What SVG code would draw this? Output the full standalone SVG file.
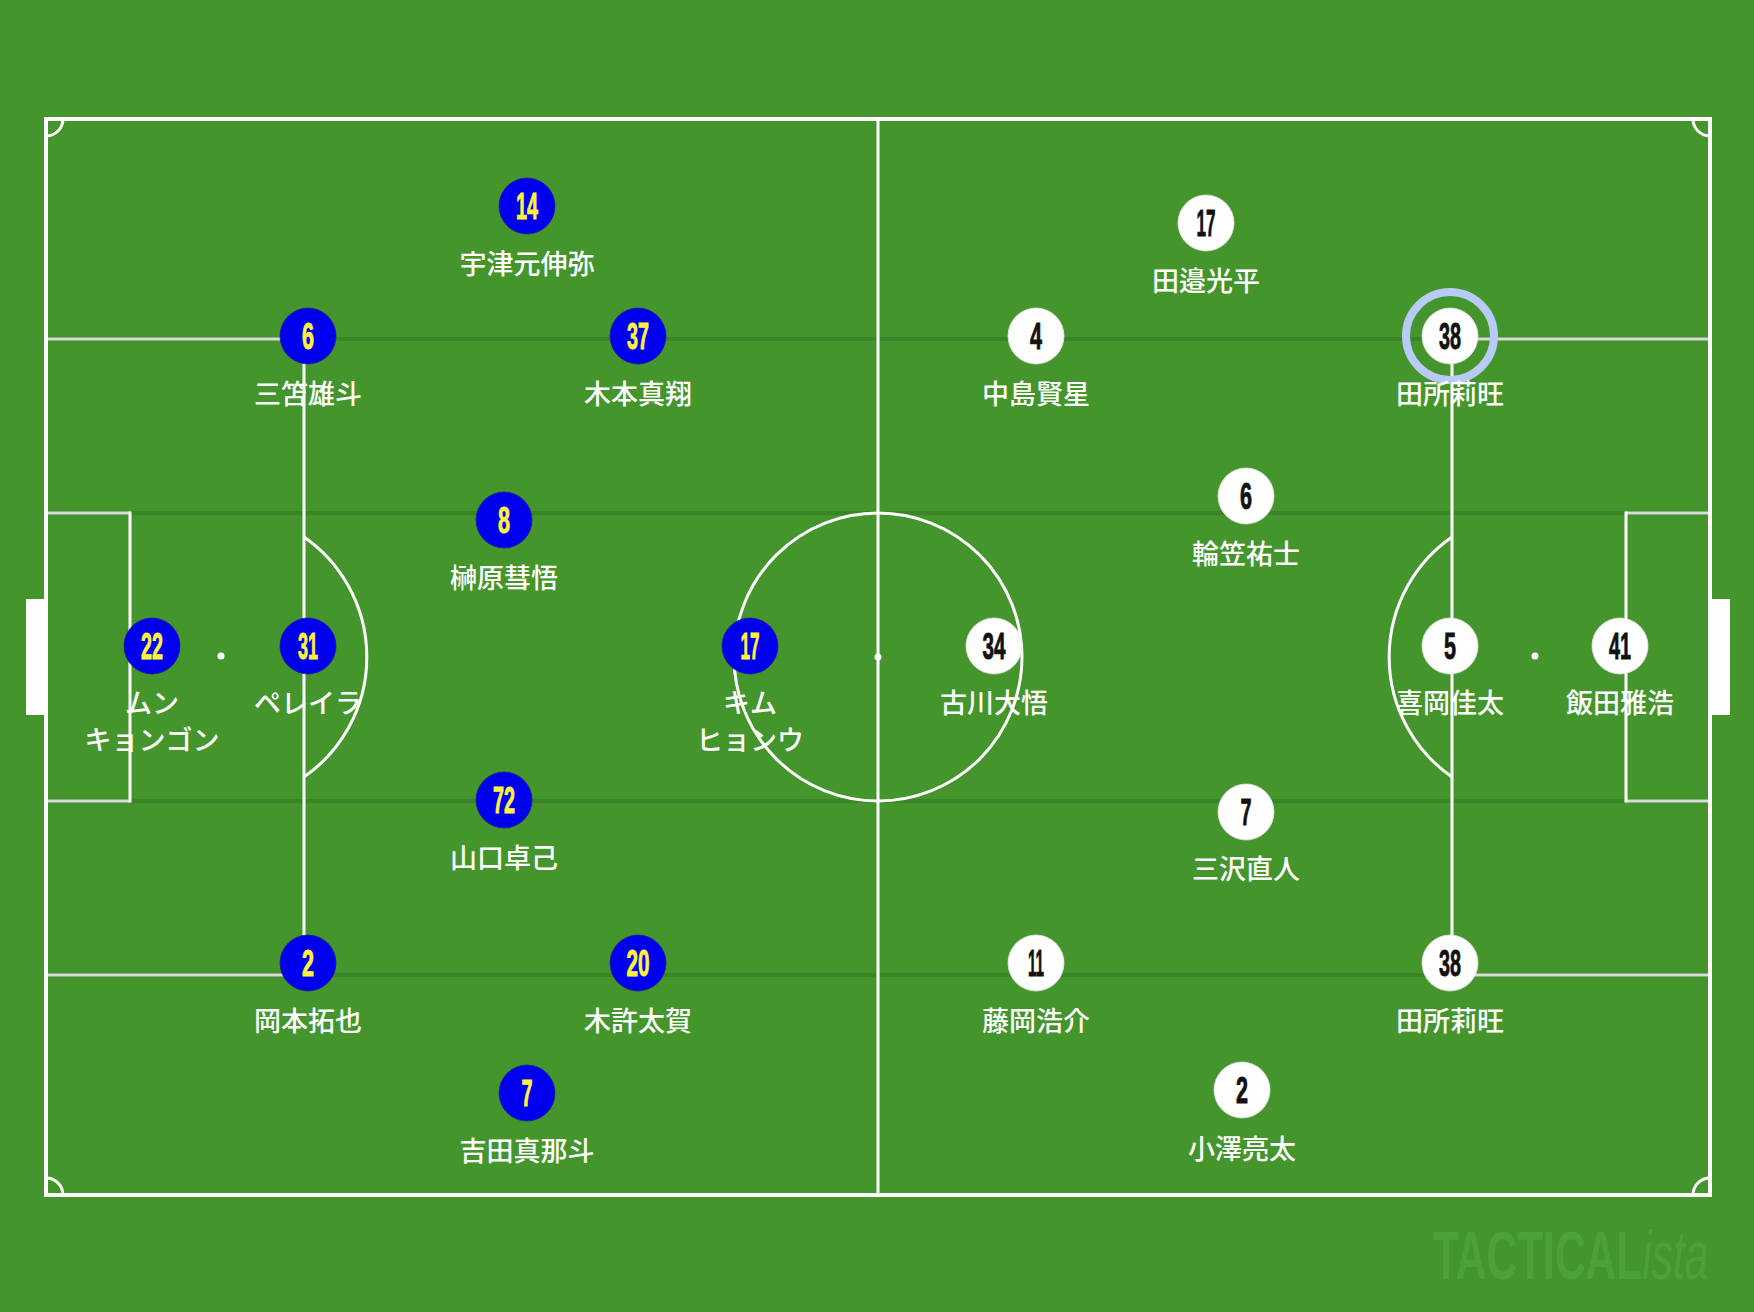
<svg xmlns="http://www.w3.org/2000/svg" width="1754" height="1312" viewBox="0 0 1754 1312">
<style>
.ln{fill:none;stroke:#ffffff;stroke-width:3}
.lg{fill:none;stroke:#dadada;stroke-width:3}
.lane{stroke:#3a8527;stroke-width:4}
.pb{fill:#0000ee;stroke:#1a1a9a;stroke-width:0.8}
.pw{fill:#ffffff;stroke:#e4e4e4;stroke-width:0.8}
.nb{font-family:"Liberation Sans","DejaVu Sans",sans-serif;font-weight:bold;font-size:37px;fill:#fff23a;stroke:#fff23a;stroke-width:0.9;text-anchor:middle}
.nw{font-family:"Liberation Sans","DejaVu Sans",sans-serif;font-weight:bold;font-size:37px;fill:#111111;stroke:#111111;stroke-width:0.9;text-anchor:middle}
.nm{font-family:"Noto Sans CJK JP","Noto Sans",sans-serif;font-size:27px;font-weight:500;fill:#ffffff;text-anchor:middle}
.wm{font-family:"Liberation Sans","DejaVu Sans",sans-serif;font-size:68px;fill:#4ca237}
</style>
<rect x="0" y="0" width="1754" height="1312" fill="#44962c"/>
<g id="lanes">
<line class="lane" x1="46" y1="339" x2="1710" y2="339"/>
<line class="lane" x1="46" y1="513" x2="1710" y2="513"/>
<line class="lane" x1="46" y1="801" x2="1710" y2="801"/>
<line class="lane" x1="46" y1="975" x2="1710" y2="975"/>
</g>
<g id="pitch">
<rect x="26" y="599" width="20" height="116" fill="#ffffff"/>
<rect x="1710" y="599" width="20" height="116" fill="#ffffff"/>
<line class="ln" x1="878" y1="119" x2="878" y2="1195"/>
<circle class="ln" cx="878" cy="657" r="144"/>
<circle cx="878" cy="657" r="3.5" fill="#ffffff"/>
<line class="lg" x1="46" y1="339" x2="304" y2="339"/>
<line class="lg" x1="46" y1="975" x2="304" y2="975"/>
<line class="ln" x1="304" y1="337.5" x2="304" y2="976.5"/>
<line class="lg" x1="46" y1="513" x2="130" y2="513"/>
<line class="lg" x1="46" y1="801" x2="130" y2="801"/>
<line class="ln" x1="130" y1="511.5" x2="130" y2="802.5"/>
<path class="ln" d="M304 537 A146 146 0 0 1 304 777"/>
<circle cx="221" cy="656" r="3.5" fill="#ffffff"/>
<line class="lg" x1="1452" y1="339" x2="1710" y2="339"/>
<line class="lg" x1="1452" y1="975" x2="1710" y2="975"/>
<line class="ln" x1="1452" y1="337.5" x2="1452" y2="976.5"/>
<line class="lg" x1="1626" y1="513" x2="1710" y2="513"/>
<line class="lg" x1="1626" y1="801" x2="1710" y2="801"/>
<line class="ln" x1="1626" y1="511.5" x2="1626" y2="802.5"/>
<path class="ln" d="M1452 537 A146 146 0 0 0 1452 777"/>
<circle cx="1535" cy="656" r="3.5" fill="#ffffff"/>
<path class="ln" d="M46 136 A17 17 0 0 0 63 119"/>
<path class="ln" d="M1693 119 A17 17 0 0 0 1710 136"/>
<path class="ln" d="M46 1178 A17 17 0 0 1 63 1195"/>
<path class="ln" d="M1693 1195 A17 17 0 0 1 1710 1178"/>
<rect x="46" y="119" width="1664" height="1076" fill="none" stroke="#ffffff" stroke-width="4"/>
</g>
<g id="connectors"></g>
<g id="blue-14"><circle class="pb" cx="527" cy="206" r="28"/><text class="nb" x="527" y="219" textLength="22" lengthAdjust="spacingAndGlyphs">14</text><text class="nm" x="527" y="274">宇津元伸弥</text></g>
<g id="blue-6"><circle class="pb" cx="308" cy="336" r="28"/><text class="nb" x="308" y="349" textLength="12" lengthAdjust="spacingAndGlyphs">6</text><text class="nm" x="308" y="404">三笘雄斗</text></g>
<g id="blue-37"><circle class="pb" cx="638" cy="336" r="28"/><text class="nb" x="638" y="349" textLength="22" lengthAdjust="spacingAndGlyphs">37</text><text class="nm" x="638" y="404">木本真翔</text></g>
<g id="blue-8"><circle class="pb" cx="504" cy="520" r="28"/><text class="nb" x="504" y="533" textLength="12" lengthAdjust="spacingAndGlyphs">8</text><text class="nm" x="504" y="588">榊原彗悟</text></g>
<g id="blue-22"><circle class="pb" cx="152" cy="646" r="28"/><text class="nb" x="152" y="659" textLength="22" lengthAdjust="spacingAndGlyphs">22</text><text class="nm" x="152" y="713">ムン</text><text class="nm" x="152" y="750">キョンゴン</text></g>
<g id="blue-31"><circle class="pb" cx="308" cy="646" r="28"/><text class="nb" x="308" y="659" textLength="20" lengthAdjust="spacingAndGlyphs">31</text><text class="nm" x="308" y="713">ペレイラ</text></g>
<g id="blue-17"><circle class="pb" cx="750" cy="646" r="28"/><text class="nb" x="750" y="659" textLength="19" lengthAdjust="spacingAndGlyphs">17</text><text class="nm" x="750" y="713">キム</text><text class="nm" x="750" y="750">ヒョンウ</text></g>
<g id="blue-72"><circle class="pb" cx="504" cy="800" r="28"/><text class="nb" x="504" y="813" textLength="22" lengthAdjust="spacingAndGlyphs">72</text><text class="nm" x="504" y="868">山口卓己</text></g>
<g id="blue-2"><circle class="pb" cx="308" cy="963" r="28"/><text class="nb" x="308" y="976" textLength="12" lengthAdjust="spacingAndGlyphs">2</text><text class="nm" x="308" y="1031">岡本拓也</text></g>
<g id="blue-20"><circle class="pb" cx="638" cy="963" r="28"/><text class="nb" x="638" y="976" textLength="23" lengthAdjust="spacingAndGlyphs">20</text><text class="nm" x="638" y="1031">木許太賀</text></g>
<g id="blue-7"><circle class="pb" cx="527" cy="1093" r="28"/><text class="nb" x="527" y="1106" textLength="11" lengthAdjust="spacingAndGlyphs">7</text><text class="nm" x="527" y="1161">吉田真那斗</text></g>
<g id="white-17"><circle class="pw" cx="1206" cy="223" r="28"/><text class="nw" x="1206" y="236" textLength="19" lengthAdjust="spacingAndGlyphs">17</text><text class="nm" x="1206" y="291">田邉光平</text></g>
<g id="white-4"><circle class="pw" cx="1036" cy="336" r="28"/><text class="nw" x="1036" y="349" textLength="12" lengthAdjust="spacingAndGlyphs">4</text><text class="nm" x="1036" y="404">中島賢星</text></g>
<g id="white-38a"><circle cx="1450" cy="336" r="44" fill="none" stroke="#b8cbf6" stroke-width="8"/><circle class="pw" cx="1450" cy="336" r="28"/><text class="nw" x="1450" y="349" textLength="22" lengthAdjust="spacingAndGlyphs">38</text><text class="nm" x="1450" y="404">田所莉旺</text></g>
<g id="white-6"><circle class="pw" cx="1246" cy="496" r="28"/><text class="nw" x="1246" y="509" textLength="12" lengthAdjust="spacingAndGlyphs">6</text><text class="nm" x="1246" y="564">輪笠祐士</text></g>
<g id="white-34"><circle class="pw" cx="994" cy="646" r="28"/><text class="nw" x="994" y="659" textLength="23" lengthAdjust="spacingAndGlyphs">34</text><text class="nm" x="994" y="713">古川大悟</text></g>
<g id="white-5"><circle class="pw" cx="1450" cy="646" r="28"/><text class="nw" x="1450" y="659" textLength="12" lengthAdjust="spacingAndGlyphs">5</text><text class="nm" x="1450" y="713">喜岡佳太</text></g>
<g id="white-41"><circle class="pw" cx="1620" cy="646" r="28"/><text class="nw" x="1620" y="659" textLength="22" lengthAdjust="spacingAndGlyphs">41</text><text class="nm" x="1620" y="713">飯田雅浩</text></g>
<g id="white-7"><circle class="pw" cx="1246" cy="812" r="28"/><text class="nw" x="1246" y="825" textLength="11" lengthAdjust="spacingAndGlyphs">7</text><text class="nm" x="1246" y="879">三沢直人</text></g>
<g id="white-11"><circle class="pw" cx="1036" cy="963" r="28"/><text class="nw" x="1036" y="976" textLength="16" lengthAdjust="spacingAndGlyphs">11</text><text class="nm" x="1036" y="1031">藤岡浩介</text></g>
<g id="white-38b"><circle class="pw" cx="1450" cy="963" r="28"/><text class="nw" x="1450" y="976" textLength="22" lengthAdjust="spacingAndGlyphs">38</text><text class="nm" x="1450" y="1031">田所莉旺</text></g>
<g id="white-2"><circle class="pw" cx="1242" cy="1090" r="28"/><text class="nw" x="1242" y="1103" textLength="12" lengthAdjust="spacingAndGlyphs">2</text><text class="nm" x="1242" y="1159">小澤亮太</text></g>
<g id="watermark" transform="translate(1433,1279) scale(0.625,1)"><text class="wm" x="0" y="0"><tspan font-weight="bold">TACTICAL</tspan><tspan font-style="italic">ista</tspan></text></g>
</svg>
